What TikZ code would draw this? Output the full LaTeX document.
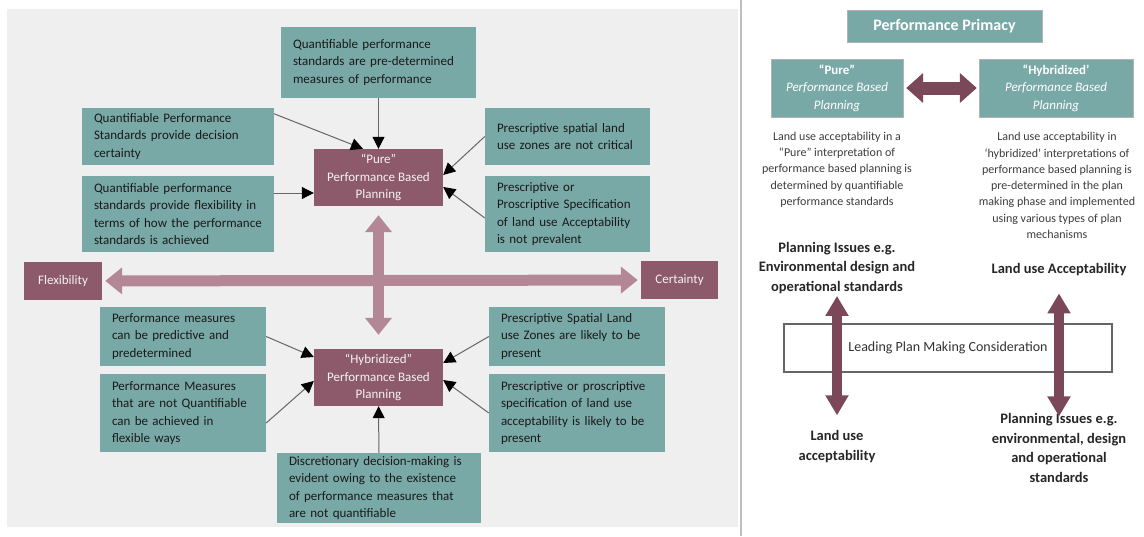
\documentclass[tikz,border=0pt]{standalone}
\usepackage{fontspec}
\setmainfont{Carlito}
\usetikzlibrary{positioning,arrows.meta}

\definecolor{tealbox}{HTML}{79A9A7}
\definecolor{plumbox}{HTML}{8C5A6A}
\definecolor{mauvearrow}{HTML}{B48796}
\definecolor{plumarrow}{HTML}{7A4858}
\definecolor{panelgrey}{HTML}{EFEFEF}
\definecolor{notegrey}{HTML}{3C3C3C}

\begin{document}
\begin{tikzpicture}[
  x=1pt, y=-1pt,
  greenbox/.style={fill=tealbox,text=black!90,align=left,inner xsep=12pt,inner ysep=0pt,
    font=\fontsize{13}{17.5}\selectfont},
  redbox/.style={fill=plumbox,text=white!92!plumbox,align=center,inner sep=0pt,
    font=\fontsize{13}{17.5}\selectfont},
  sidebox/.style={fill=tealbox,draw=gray!60,text=white,align=center,inner sep=0pt,
    font=\fontsize{13}{17.5}\selectfont},
  note/.style={text=notegrey,align=center,inner sep=0pt,font=\fontsize{12}{16.3}\selectfont},
  boldnote/.style={text=black!85,align=center,inner sep=0pt,font=\fontsize{14.5}{19.5}\selectfont\bfseries},
  thinarrow/.style={draw=black!60,line width=1pt,-{Triangle[length=12pt,width=12pt,black]}},
  bigarrow/.style={draw=mauvearrow,line width=11pt,
    {Triangle[length=17pt,width=26pt]}-{Triangle[length=17pt,width=26pt]}},
  darkarrow/.style={draw=plumarrow,line width=13pt,
    {Triangle[length=17pt,width=29pt]}-{Triangle[length=17pt,width=29pt]}},
  slimarrow/.style={draw=plumarrow,line width=10pt,
    {Triangle[length=20pt,width=22pt]}-{Triangle[length=20pt,width=22pt]}}
    ]

\useasboundingbox (0,0) rectangle (1144,536);
\fill[panelgrey] (7,9) rectangle (738,527);
\draw[gray!50,line width=1.5pt] (741,0) -- (741,536);

% left panel
\node[redbox,minimum width=129pt,minimum height=57pt] (pure) at (378.5,177.5)
  {``Pure''\\Performance Based\\Planning};
\node[redbox,minimum width=129pt,minimum height=57pt] (hyb) at (378.5,377.5)
  {``Hybridized''\\Performance Based\\Planning};
\node[redbox,minimum width=78pt,minimum height=38pt] (flex) at (63,281) {Flexibility};
\node[redbox,minimum width=77pt,minimum height=38pt] (cert) at (679.5,280) {Certainty};

\node[greenbox,text width=171pt,minimum height=71pt] (qtop) at (378.5,62.5)
  {Quantifiable performance\\standards are pre-determined\\measures of performance};
\node[greenbox,text width=168pt,minimum height=57pt] (qcert) at (178,136.5)
  {Quantifiable Performance\\Standards provide decision\\certainty};
\node[greenbox,text width=168pt,minimum height=76pt] (qflex) at (178,214)
  {Quantifiable performance\\standards provide flexibility in\\terms of how the performance\\standards is achieved};
\node[greenbox,text width=141pt,minimum height=57pt] (pzone) at (567.5,136.5)
  {Prescriptive spatial land\\use zones are not critical};
\node[greenbox,text width=141pt,minimum height=76pt] (pspec) at (567.5,214)
  {Prescriptive or\\Proscriptive Specification\\of land use Acceptability\\is not prevalent};
\node[greenbox,text width=142pt,minimum height=59pt] (mpred) at (183,336.5)
  {Performance measures\\can be predictive and\\predetermined};
\node[greenbox,text width=142pt,minimum height=78pt] (mflex) at (183,413)
  {Performance Measures\\that are not Quantifiable\\can be achieved in\\flexible ways};
\node[greenbox,text width=152pt,minimum height=59pt] (hzone) at (577,336.5)
  {Prescriptive Spatial Land\\use Zones are likely to be\\present};
\node[greenbox,text width=152pt,minimum height=78pt] (hspec) at (577,413)
  {Prescriptive or proscriptive\\specification of land use\\acceptability is likely to be\\present};
\node[greenbox,text width=180pt,minimum height=70pt] (disc) at (379,488)
  {Discretionary decision-making is\\evident owing to the existence\\of performance measures that\\are not quantifiable};

\draw[bigarrow,shorten <=3pt,shorten >=3pt] (flex) -- (cert);
\draw[bigarrow,shorten <=9pt,shorten >=14pt] (pure) -- (hyb);

\path (qtop) edge[thinarrow] (pure)
  ([yshift=-6pt]qcert.north east) edge[thinarrow] ([xshift=-15.5pt]pure.north)
  ([yshift=21pt]qflex.east) edge[thinarrow] ([yshift=-15.5pt]pure.west)
  (pzone.west) edge[thinarrow] ([yshift=2.5pt]pure.east)
  ([yshift=-4pt]pspec.west) edge[thinarrow] ([yshift=-9.5pt]pure.east)
  (mpred.east) edge[thinarrow] ([yshift=20.5pt]hyb.west)
  ([yshift=-10pt]mflex.east) edge[thinarrow] ([yshift=-3.5pt]hyb.west)
  (hzone.west) edge[thinarrow] ([yshift=14.5pt]hyb.east)
  (hspec.west) edge[thinarrow] ([yshift=-2.5pt]hyb.east)
  (disc) edge[thinarrow] (hyb);

% right panel
\node[sidebox,minimum width=195pt,minimum height=32pt,
  font=\fontsize{16}{19}\selectfont\bfseries] (primacy) at (944.5,26) {Performance Primacy};
\node[sidebox,minimum width=132pt,minimum height=58pt] (rpure) at (837,88)
  {\textbf{“Pure”}\\\textit{Performance Based}\\\textit{Planning}};
\node[sidebox,minimum width=154pt,minimum height=58pt] (rhyb) at (1056,88)
  {\textbf{“Hybridized’}\\\textit{Performance Based}\\\textit{Planning}};
\draw[darkarrow,shorten <=3pt,shorten >=2pt] (rpure) -- (rhyb);

\node[note] (purenote) at (837,169.5)
  {Land use acceptability in a\\“Pure” interpretation of\\performance based planning is\\determined by quantifiable\\performance standards};
\node[note] (hybnote) at (1057,185.5)
  {Land use acceptability in\\‘hybridized’ interpretations of\\performance based planning is\\pre-determined in the plan\\making phase and implemented\\using various types of plan\\mechanisms};

\node[boldnote] (issuesL) at (837,268)
  {Planning Issues e.g.\\Environmental design and\\operational standards};
\node[boldnote] (landR) at (1059,270) {Land use Acceptability};

\node[draw=gray!80!black,line width=1.2pt,fill=white,minimum width=328pt,minimum height=48pt,
  text=black!80,font=\fontsize{14}{17}\selectfont] (lead) at (948,348)
  {Leading Plan Making Consideration};

\node[boldnote] (landL) at (837,446.5) {Land use\\acceptability};
\node[boldnote] (issuesR) at (1059,448)
  {Planning Issues e.g.\\environmental, design\\and operational\\standards};

\draw[slimarrow,shorten <=2pt,shorten >=15pt] (issuesL.south) -- (landL.north);
\draw[slimarrow,shorten <=17pt,shorten >=-3pt] (landR.south) -- (issuesR.north);
\end{tikzpicture}
\end{document}
